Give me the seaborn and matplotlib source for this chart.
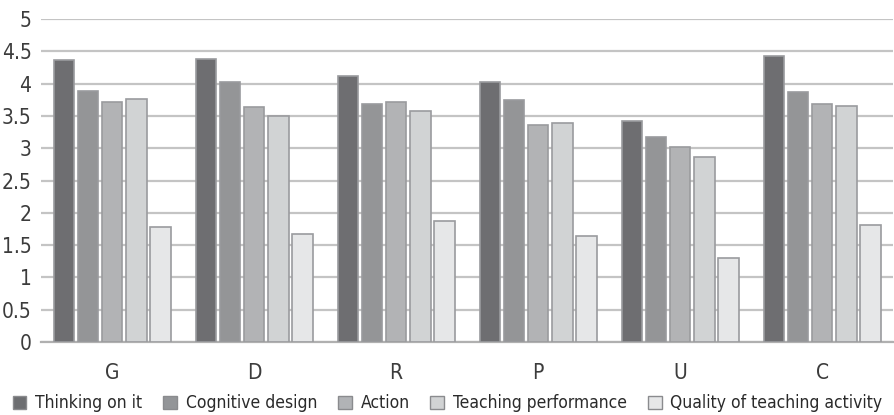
import matplotlib
matplotlib.use("Agg")
import matplotlib.pyplot as plt
import seaborn as sns
import pandas as pd
from matplotlib.patches import Patch

groups = ["G", "D", "R", "P", "U", "C"]
series = ["Thinking on it", "Cognitive design", "Action",
          "Teaching performance", "Quality of teaching activity"]
thinking = [4.37, 4.38, 4.12, 4.03, 3.42, 4.43]
cognitive = [3.89, 4.03, 3.69, 3.75, 3.17, 3.87]
action = [3.71, 3.64, 3.71, 3.36, 3.02, 3.69]
teaching = [3.76, 3.50, 3.57, 3.39, 2.86, 3.65]
quality = [1.78, 1.67, 1.88, 1.64, 1.30, 1.81]
y_ticks = [0, 0.5, 1, 1.5, 2, 2.5, 3, 3.5, 4, 4.5, 5]
y_tick_labels = ["0", "0.5", "1", "1.5", "2", "2.5", "3", "3.5", "4", "4.5", "5"]

colors = ["#6d6e71", "#939598", "#b1b3b6", "#d1d3d4", "#e6e7e8"]

rows = []
for name, vals in zip(series, [thinking, cognitive, action, teaching, quality]):
    for g, v in zip(groups, vals):
        rows.append({"group": g, "series": name, "value": v})
df = pd.DataFrame(rows)

sns.set_theme(style="white")
plt.rcParams["font.family"] = ["DejaVu Sans"]
plt.rcParams["font.stretch"] = "condensed"

fig = plt.figure(figsize=(8.95, 4.15), dpi=100)
ax = fig.add_axes([0.046, 0.176, 0.952, 0.778])

sns.barplot(data=df, x="group", y="value", hue="series", order=groups,
            hue_order=series, palette=colors, width=0.85, gap=0.15,
            edgecolor="#9a9b9e", linewidth=1.2, ax=ax, legend=False,
            errorbar=None, zorder=3)

ax.set_ylim(0, 5)
ax.set_xlim(-0.5, len(groups) - 0.5)
ax.set_yticks(y_ticks)
ax.set_yticklabels(y_tick_labels)
ax.yaxis.grid(True, color="#c4c4c4", linewidth=1.6, zorder=0)
ax.set_axisbelow(True)
for side in ["left", "right", "top"]:
    ax.spines[side].set_visible(False)
ax.spines["bottom"].set_color("#b0b0b0")
ax.spines["bottom"].set_linewidth(1.6)
ax.tick_params(axis="both", length=0, labelsize=15, labelcolor="#3c3c3c")
ax.tick_params(axis="x", pad=15)
ax.tick_params(axis="y", pad=7)
ax.set_xlabel("")
ax.set_ylabel("")

handles = [Patch(facecolor=c, edgecolor="#8a8b8e", linewidth=1.0) for c in colors]
fig.legend(handles, series, loc="center", bbox_to_anchor=(0.5, 0.028),
           ncol=5, frameon=False, fontsize=12.5, handlelength=0.8,
           handleheight=0.8, handletextpad=0.5, columnspacing=1.2,
           labelcolor="#2a2a2a")

fig.savefig("out.png", dpi=100)
